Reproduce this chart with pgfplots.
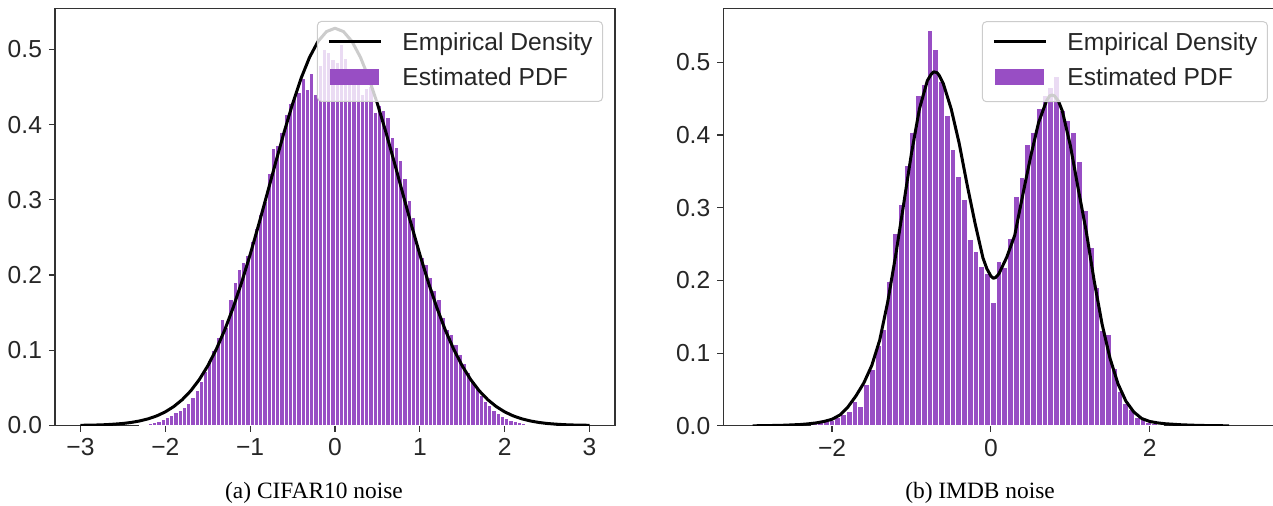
\documentclass[border=0pt]{standalone}
\usepackage{fontspec}
\setmainfont{Liberation Sans}
\newfontfamily\capfont{Liberation Serif}
\usepackage{pgfplots}
\usepackage{pgfplotstable}
\pgfplotsset{compat=1.18}

\definecolor{barpurple}{RGB}{152,78,196}
\definecolor{spine}{RGB}{51,51,51}
\definecolor{ticktext}{RGB}{38,38,38}
\definecolor{legframe}{RGB}{204,204,204}

% CIFAR10: histogram bin centres and heights
\pgfplotstableread{
x y
-2.275 0.001
-2.225 0.002
-2.175 0.003
-2.125 0.004
-2.075 0.005
-2.025 0.008
-1.975 0.010
-1.925 0.013
-1.875 0.017
-1.825 0.020
-1.775 0.024
-1.725 0.029
-1.675 0.037
-1.625 0.046
-1.575 0.058
-1.525 0.072
-1.475 0.086
-1.425 0.100
-1.375 0.117
-1.325 0.141
-1.275 0.130
-1.225 0.168
-1.175 0.190
-1.125 0.208
-1.075 0.216
-1.025 0.226
-0.975 0.244
-0.925 0.262
-0.875 0.280
-0.825 0.298
-0.775 0.335
-0.725 0.368
-0.675 0.372
-0.625 0.390
-0.575 0.413
-0.525 0.428
-0.475 0.436
-0.425 0.443
-0.375 0.461
-0.325 0.447
-0.275 0.468
-0.225 0.440
-0.175 0.478
-0.125 0.500
-0.075 0.496
-0.025 0.486
0.025 0.483
0.075 0.507
0.125 0.488
0.175 0.470
0.225 0.455
0.275 0.462
0.325 0.440
0.375 0.448
0.425 0.450
0.475 0.416
0.525 0.425
0.575 0.419
0.625 0.410
0.675 0.383
0.725 0.370
0.775 0.352
0.825 0.328
0.875 0.299
0.925 0.277
0.975 0.239
1.025 0.223
1.075 0.214
1.125 0.197
1.175 0.179
1.225 0.168
1.275 0.143
1.325 0.128
1.375 0.121
1.425 0.108
1.475 0.095
1.525 0.083
1.575 0.070
1.625 0.059
1.675 0.050
1.725 0.040
1.775 0.032
1.825 0.027
1.875 0.020
1.925 0.016
1.975 0.012
2.025 0.009
2.075 0.007
2.125 0.005
2.175 0.004
2.225 0.003
2.275 0.002
2.325 0.002
2.375 0.001
2.425 0.001
2.475 0.001
2.525 0.0005
2.575 0.0005
}\cifarhist

% CIFAR10: density curve
\pgfplotstableread{
x y
-3.0 0.0003
-2.9 0.0004
-2.8 0.0007
-2.7 0.0011
-2.6 0.0018
-2.5 0.0027
-2.4 0.0041
-2.3 0.0061
-2.2 0.0089
-2.1 0.0128
-2.0 0.0181
-1.9 0.0252
-1.8 0.0344
-1.7 0.0461
-1.6 0.0609
-1.5 0.0792
-1.4 0.1011
-1.3 0.1269
-1.2 0.1568
-1.1 0.1903
-1.0 0.2272
-0.9 0.2667
-0.8 0.3078
-0.7 0.3493
-0.6 0.3898
-0.5 0.4276
-0.4 0.4614
-0.3 0.4894
-0.2 0.5105
-0.1 0.5236
0.0 0.5280
0.1 0.5236
0.2 0.5105
0.3 0.4894
0.4 0.4614
0.5 0.4276
0.6 0.3898
0.7 0.3493
0.8 0.3078
0.9 0.2667
1.0 0.2272
1.1 0.1903
1.2 0.1568
1.3 0.1269
1.4 0.1011
1.5 0.0792
1.6 0.0609
1.7 0.0461
1.8 0.0344
1.9 0.0252
2.0 0.0181
2.1 0.0128
2.2 0.0089
2.3 0.0061
2.4 0.0041
2.5 0.0027
2.6 0.0018
2.7 0.0011
2.8 0.0007
2.9 0.0004
3.0 0.0003
}\cifarkde

% IMDB: histogram bin centres and heights
\pgfplotstableread{
x y
-2.2175 0.003
-2.145 0.004
-2.0725 0.006
-2.0 0.007
-1.9275 0.012
-1.855 0.016
-1.7825 0.019
-1.71 0.034
-1.6375 0.026
-1.565 0.057
-1.4925 0.077
-1.42 0.110
-1.3475 0.132
-1.275 0.198
-1.2025 0.265
-1.13 0.305
-1.0575 0.358
-0.985 0.403
-0.9125 0.455
-0.84 0.470
-0.7675 0.544
-0.695 0.518
-0.6225 0.474
-0.55 0.427
-0.4775 0.380
-0.405 0.343
-0.3325 0.312
-0.26 0.256
-0.1875 0.240
-0.115 0.219
-0.0425 0.210
0.03 0.170
0.1025 0.226
0.175 0.218
0.2475 0.258
0.32 0.316
0.3925 0.341
0.465 0.387
0.5375 0.403
0.61 0.437
0.6825 0.455
0.755 0.465
0.8275 0.481
0.90 0.434
0.9725 0.420
1.045 0.403
1.1175 0.364
1.19 0.296
1.2625 0.245
1.335 0.190
1.4075 0.131
1.48 0.126
1.5525 0.079
1.625 0.047
1.6975 0.031
1.77 0.022
1.8425 0.012
1.915 0.008
1.9875 0.005
2.06 0.003
2.1325 0.002
}\imdbhist

% IMDB: density curve
\pgfplotstableread{
x y
-3.0 0.0000
-2.8 0.0003
-2.6 0.0008
-2.4 0.0018
-2.3 0.0027
-2.2 0.0040
-2.1 0.0060
-2.0 0.0090
-1.9 0.0150
-1.8 0.0260
-1.7 0.0410
-1.6 0.0590
-1.5 0.0830
-1.4 0.1180
-1.3 0.1700
-1.2 0.2340
-1.1 0.3040
-1.0 0.3750
-0.9 0.4360
-0.8 0.4750
-0.75 0.4840
-0.72 0.4870
-0.68 0.4860
-0.65 0.4820
-0.6 0.4710
-0.5 0.4360
-0.4 0.3890
-0.3 0.3320
-0.2 0.2790
-0.1 0.2310
-0.05 0.2160
0.0 0.2060
0.03 0.2030
0.06 0.2040
0.1 0.2090
0.2 0.2320
0.3 0.2620
0.4 0.3170
0.5 0.3700
0.6 0.4170
0.7 0.4470
0.74 0.4540
0.77 0.4550
0.8 0.4540
0.85 0.4470
0.9 0.4330
1.0 0.3860
1.1 0.3260
1.2 0.2680
1.3 0.2000
1.4 0.1400
1.5 0.0930
1.6 0.0580
1.7 0.0340
1.8 0.0190
1.9 0.0100
2.0 0.0060
2.1 0.0040
2.2 0.0028
2.4 0.0014
2.6 0.0006
2.8 0.0002
3.0 0.0000
}\imdbkde

\pgfplotsset{
  noise/.style={
    scale only axis,
    height=208.6pt,
    ymin=0,
    axis line style={spine, line width=0.6pt},
    tick style={spine, line width=0.6pt},
    major tick length=3pt,
    tick align=outside,
    tick pos=left,
    ytick={0,0.1,0.2,0.3,0.4,0.5},
    yticklabels={0.0,0.1,0.2,0.3,0.4,0.5},
    ticklabel style={font=\fontsize{12.3}{14}\selectfont, text=ticktext},
    legend cell align=left,
    legend style={at={(1,1)}, anchor=north east, xshift=-6pt, yshift=-6.3pt,
      draw=legframe, line width=0.5pt, rounded corners=2pt,
      fill=white, fill opacity=0.8, draw opacity=1, text opacity=1,
      inner xsep=5pt, inner ysep=5.5pt, row sep=6pt,
      font=\fontsize{12.3}{14}\selectfont, text=ticktext,
      nodes={inner sep=0pt, text height=9pt, text depth=2.5pt, anchor=base west},
      /tikz/every odd column/.append style={column sep=10pt}},
  },
  hist/.style={ybar, bar width=#1, fill=barpurple, draw=white, line width=0.5pt, forget plot},
  kde/.style={black, line width=1.5pt, line join=round,
    legend image code/.code={\draw[##1, sharp corners] (0pt,4.4pt) -- (26pt,4.4pt);}},
  patch/.style={fill=barpurple, draw=none,
    legend image code/.code={\fill[##1, sharp corners, fill opacity=1] (0.5pt,0.4pt) rectangle (25pt,8.4pt);}},
}

\begin{document}
\begin{tikzpicture}
\useasboundingbox (0,0) rectangle (636.5pt,252.5pt);

\begin{axis}[noise, at={(27.5pt,39.75pt)}, anchor=south west,
  width=280pt, xmin=-3.3, xmax=3.3, ymax=0.5545,
  xtick={-3,-2,-1,0,1,2,3}, xticklabels={−3,−2,−1,0,1,2,3}]
\addplot[hist=0.05] table[x=x, y=y] {\cifarhist};
\addplot[kde] table[x=x, y=y] {\cifarkde};
\addlegendentry{Empirical Density}
\addlegendimage{patch}
\addlegendentry{Estimated PDF}
\end{axis}

\begin{axis}[noise, at={(361.65pt,39.6pt)}, anchor=south west,
  width=278.3pt, xmin=-3.37, xmax=3.64, ymax=0.574,
  xtick={-2,0,2}, xticklabels={−2,0,2}]
\addplot[hist=0.0725] table[x=x, y=y] {\imdbhist};
\addplot[kde] table[x=x, y=y] {\imdbkde};
\addlegendentry{Empirical Density}
\addlegendimage{patch}
\addlegendentry{Estimated PDF}
\end{axis}

\node[font=\capfont\fontsize{11.7}{14}\selectfont, anchor=base] at (157pt,3.5pt) {(a) CIFAR10 noise};
\node[font=\capfont\fontsize{11.7}{14}\selectfont, anchor=base] at (490pt,3.5pt) {(b) IMDB noise};
\end{tikzpicture}
\end{document}
